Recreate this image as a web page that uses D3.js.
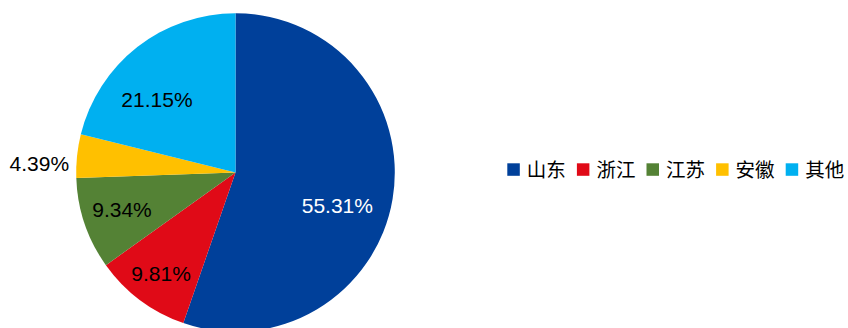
<!DOCTYPE html>
<html>
<head>
<meta charset="utf-8">
<script src="https://cdn.jsdelivr.net/npm/d3@7/dist/d3.min.js"></script>
<style>
  html, body { margin: 0; padding: 0; background: #fff; }
  svg { display: block; }
</style>
</head>
<body>
<svg id="chart" width="848" height="328"></svg>
<script>
// Provincial shares (%), clockwise from 12 o'clock
const regions = ["山东", "浙江", "江苏", "安徽", "其他"];
const shares = [55.31, 9.81, 9.34, 4.39, 21.15];
const colors = ["#00409A", "#E00A17", "#548235", "#FFC000", "#00B0F0"];
const labelColors = ["#ffffff", "#000000", "#000000", "#000000", "#000000"];
// percentage label placement: [fraction of radius, angle in degrees clockwise from top]
const labelPolar = [[0.671, 107.7], [0.786, 216.5], [0.75, 251.8], [1.233, 272.5], [0.674, 313]];

const svg = d3.select("#chart");
const cx = 235.5, cy = 172.5, R = 159.3;

const pie = d3.pie().sort(null).value(d => d);
const arcs = pie(shares);
const arc = d3.arc().innerRadius(0).outerRadius(R);

const g = svg.append("g").attr("transform", `translate(${cx},${cy})`);

g.selectAll("path.slice")
  .data(arcs)
  .join("path")
  .attr("class", "slice")
  .attr("d", arc)
  .attr("fill", (d, i) => colors[i]);

const fmt = v => v.toFixed(2) + "%";

g.selectAll("text.pct")
  .data(arcs)
  .join("text")
  .attr("class", "pct")
  .attr("transform", (d, i) => {
    const [f, deg] = labelPolar[i];
    const a = deg * Math.PI / 180, r = R * f;
    return `translate(${r * Math.sin(a)},${-r * Math.cos(a)})`;
  })
  .attr("text-anchor", "middle")
  .attr("dy", "0.36em")
  .attr("font-family", "Liberation Sans, Arial, sans-serif")
  .attr("font-size", 21)
  .attr("fill", (d, i) => labelColors[i])
  .text(d => fmt(d.data));

// Legend
const legend = svg.append("g").attr("transform", "translate(507.3,163.3)");
const step = 69.6;
const items = legend.selectAll("g.item")
  .data(regions)
  .join("g")
  .attr("class", "item")
  .attr("transform", (d, i) => `translate(${i * step},0)`);

items.append("rect")
  .attr("width", 12.5)
  .attr("height", 12.5)
  .attr("fill", (d, i) => colors[i]);

items.append("text")
  .attr("x", 19.5)
  .attr("y", 6.5)
  .attr("dy", "0.36em")
  .attr("font-family", "Noto Sans CJK SC, sans-serif")
  .attr("font-size", 19.5)
  .attr("fill", "#000")
  .text(d => d);
</script>
</body>
</html>
